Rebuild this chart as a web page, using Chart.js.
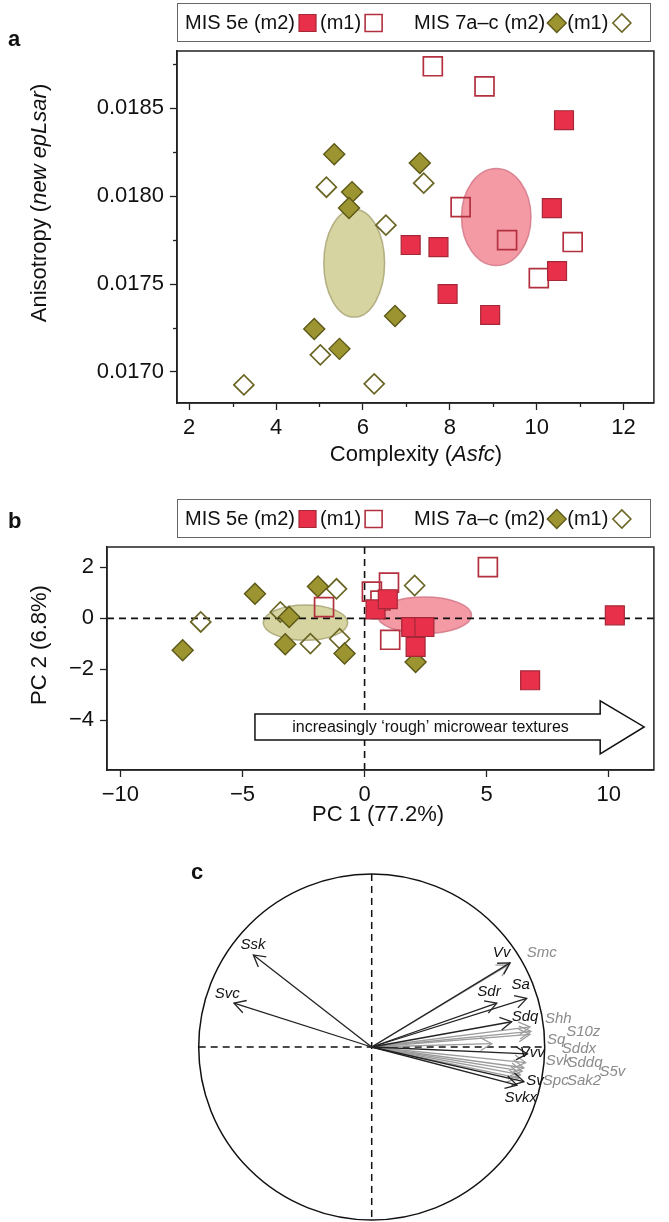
<!DOCTYPE html>
<html>
<head>
<meta charset="utf-8">
<script src="https://cdn.jsdelivr.net/npm/chart.js@4.4.1/dist/chart.umd.min.js"></script>
<style>
  html, body { margin: 0; padding: 0; background: #fff; }
  #wrap { position: relative; width: 669px; height: 1222px; overflow: hidden; }
  .pane { position: absolute; left: 0; width: 669px; }
</style>
</head>
<body>
<div id="wrap">
  <div class="pane" style="top:0;height:485px"><canvas id="chartA"></canvas></div>
  <div class="pane" style="top:485px;height:365px"><canvas id="chartB"></canvas></div>
  <div class="pane" style="top:850px;height:372px"><canvas id="chartC"></canvas></div>
</div>
<script>
// ---------- panel a : Complexity (Asfc) vs Anisotropy (new epLsar)
const aAsfc5eM2 = [10.63, 10.35, 7.10, 7.74, 10.47, 7.95, 8.93];
const aEpl5eM2  = [0.018432, 0.017932, 0.017722, 0.017710, 0.017574, 0.017443, 0.017324];
const aAsfc5eM1 = [7.61, 8.80, 8.25, 9.32, 10.83, 10.05];
const aEpl5eM1  = [0.018739, 0.018625, 0.017938, 0.017750, 0.017739, 0.017534];
const aAsfc7M2  = [5.34, 7.31, 5.75, 5.68, 4.88, 5.46, 6.74];
const aEpl7M2   = [0.018239, 0.018188, 0.018023, 0.017932, 0.017244, 0.017131, 0.017318];
const aAsfc7M1  = [5.16, 7.40, 6.53, 5.02, 3.26, 6.26];
const aEpl7M1   = [0.018051, 0.018074, 0.017835, 0.017097, 0.016926, 0.016932];
// group ellipses: centre x, centre y, radius x, radius y
const aEll5e = [9.07, 0.017881, 0.80, 0.000276];
const aEll7  = [5.80, 0.017619, 0.70, 0.000307];

// ---------- panel b : PCA scores
const bPc1_5eM2 = [10.25, 6.78, 2.09, 1.91, 2.45, 0.45, 0.95];
const bPc2_5eM2 = [0.12, -2.43, -1.12, -0.34, -0.34, 0.35, 0.75];
const bPc1_5eM1 = [5.05, 1.05, -1.66, 0.30, 1.00, 0.65];
const bPc2_5eM1 = [2.01, -0.84, 0.44, 1.05, 1.40, 0.70];
const bPc1_7M2  = [-4.49, -7.45, -1.91, -3.09, -3.25, -0.82, 2.09];
const bPc2_7M2  = [0.97, -1.25, 1.25, 0.05, -1.02, -1.38, -1.71];
const bPc1_7M1  = [-6.71, -1.15, -3.45, -2.22, -1.02, 2.05];
const bPc2_7M1  = [-0.14, 1.16, 0.25, -0.99, -0.80, 1.29];
const bEll5e = [2.45, 0.12, 1.93, 0.72];
const bEll7  = [-2.42, -0.17, 1.73, 0.69];
// block arrow: from x, head start x, tip x, centre y (PC units)
const bArrow = [-4.49, 9.65, 11.45, -4.26];

// ---------- panel c : loadings (correlation circle)
const cBlackNames = ['Ssk', 'Svc', 'Vv', 'Sa', 'Sdr', 'Sdq', 'Vvv', 'Sv', 'Svkx'];
const cBlackX = [-0.684, -0.796, 0.80, 0.896, 0.723, 0.809, 0.90, 0.88, 0.84];
const cBlackY = [0.532, 0.253, 0.486, 0.281, 0.253, 0.146, -0.04, -0.20, -0.22];
const cGrayNames = ['Smc', 'Shh', 'S10z', 'Sq', 'Sddx', 'Svk', 'Sddq', 'S5v', 'Sak2', 'Spc'];
const cGrayX = [0.79, 0.915, 0.92, 0.915, 0.694, 0.89, 0.88, 0.87, 0.86, 0.85];
const cGrayY = [0.475, 0.116, 0.09, 0.073, 0.019, -0.09, -0.12, -0.14, -0.16, -0.18];
// where each label sits (circle units)
const cBlackLabelAt = [[-0.686, 0.590], [-0.835, 0.306], [0.751, 0.542], [0.861, 0.358], [0.678, 0.320],
  [0.886, 0.172], [0.928, -0.031], [0.944, -0.195], [0.861, -0.291]];
const cGrayLabelAt = [[0.983, 0.542], [1.079, 0.162], [1.223, 0.085], [1.067, 0.040], [1.198, -0.008],
  [1.079, -0.079], [1.233, -0.089], [1.391, -0.143], [1.227, -0.195], [1.064, -0.195]];

const FONT = '"Liberation Sans", Arial, Helvetica, sans-serif';
const RED = '#e8304a', RED_EDGE = '#a52838', RED_OPEN = '#b3303f';
const OLIVE = '#9c9430', OLIVE_EDGE = '#5c5818', OLIVE_OPEN = '#6a6524';

const zip = (xs, ys) => xs.map((x, i) => ({ x: x, y: ys[i] }));

function markerSets(p) {
  return [
    { data: p[0], pointStyle: 'rect', pointRadius: 13.4, backgroundColor: RED, borderColor: RED_EDGE, borderWidth: 1.2 },
    { data: p[1], pointStyle: 'rect', pointRadius: 13.4, backgroundColor: 'rgba(255,255,255,0)', borderColor: RED_OPEN, borderWidth: 1.7 },
    { data: p[2], pointStyle: 'rectRot', pointRadius: 10.5, backgroundColor: OLIVE, borderColor: OLIVE_EDGE, borderWidth: 1.4 },
    { data: p[3], pointStyle: 'rectRot', pointRadius: 10, backgroundColor: 'rgba(255,255,255,0)', borderColor: OLIVE_OPEN, borderWidth: 1.7 }
  ].map(d => Object.assign(d, { showLine: false, pointHoverRadius: d.pointRadius }));
}

function drawRich(ctx, parts, x, y, size) {
  let total = 0;
  parts.forEach(p => { ctx.font = (p[1] ? 'italic ' : '') + size + 'px ' + FONT; total += ctx.measureText(p[0]).width; });
  let cx = x - total / 2;
  ctx.textAlign = 'left';
  ctx.textBaseline = 'middle';
  parts.forEach(p => {
    ctx.font = (p[1] ? 'italic ' : '') + size + 'px ' + FONT;
    ctx.fillText(p[0], cx, y);
    cx += ctx.measureText(p[0]).width;
  });
}

function square(ctx, cx, cy, s, fill, edge, lw) {
  ctx.beginPath();
  ctx.rect(cx - s / 2, cy - s / 2, s, s);
  if (fill) { ctx.fillStyle = fill; ctx.fill(); }
  ctx.lineWidth = lw; ctx.strokeStyle = edge; ctx.stroke();
}
function diamond(ctx, cx, cy, r, fill, edge, lw) {
  ctx.beginPath();
  ctx.moveTo(cx - r, cy); ctx.lineTo(cx, cy - r); ctx.lineTo(cx + r, cy); ctx.lineTo(cx, cy + r);
  ctx.closePath();
  if (fill) { ctx.fillStyle = fill; ctx.fill(); }
  ctx.lineWidth = lw; ctx.strokeStyle = edge; ctx.stroke();
}

function drawLegend(ctx, top) {
  const left = 177, right = 650, h = 38, cy = top + h / 2 + 1;
  ctx.save();
  ctx.strokeStyle = '#666'; ctx.lineWidth = 1;
  ctx.strokeRect(left + 0.5, top + 0.5, right - left, h);
  ctx.font = '20px ' + FONT; ctx.fillStyle = '#111';
  ctx.textAlign = 'left'; ctx.textBaseline = 'middle';
  let x = 185;
  const text = t => { ctx.fillStyle = '#111'; ctx.fillText(t, x, cy); x += ctx.measureText(t).width; };
  text('MIS 5e (m2)'); x += 4;
  square(ctx, x + 8.5, cy, 17, RED, RED_EDGE, 1.2); x += 21;
  text('(m1)'); x += 4;
  square(ctx, x + 8.5, cy, 17, null, RED_OPEN, 1.6); x += 49;
  text('MIS 7a\u2013c (m2)'); x += 2;
  diamond(ctx, x + 9.5, cy, 9.5, OLIVE, OLIVE_EDGE, 1.3); x += 20;
  text('(m1)'); x += 4;
  diamond(ctx, x + 9.5, cy, 9, null, OLIVE_OPEN, 1.6);
  ctx.restore();
}

function drawEllipse(ctx, xs, ys, e, fill, edge) {
  const cx = xs.getPixelForValue(e[0]), cy = ys.getPixelForValue(e[1]);
  const rx = Math.abs(xs.getPixelForValue(e[0] + e[2]) - cx);
  const ry = Math.abs(ys.getPixelForValue(e[1] + e[3]) - cy);
  ctx.beginPath();
  ctx.ellipse(cx, cy, rx, ry, 0, 0, Math.PI * 2);
  ctx.fillStyle = fill; ctx.fill();
  ctx.lineWidth = 1.5; ctx.strokeStyle = edge; ctx.stroke();
}

function frame(ctx, area) {
  ctx.save();
  ctx.strokeStyle = '#222'; ctx.lineWidth = 1.5;
  ctx.strokeRect(area.left, area.top, area.right - area.left, area.bottom - area.top);
  ctx.restore();
}

const minus = v => String(v).replace('-', '\u2212');
const isHalfStep = v => Math.round(v / 0.00025) % 2 === 0;

// ---------- chart a
const panelA = {
  id: 'panelA',
  beforeDatasetsDraw(chart) {
    const ctx = chart.ctx, xs = chart.scales.x, ys = chart.scales.y;
    ctx.save();
    drawEllipse(ctx, xs, ys, aEll5e, 'rgba(237,86,105,0.6)', 'rgba(205,110,125,0.75)');
    drawEllipse(ctx, xs, ys, aEll7, 'rgba(187,183,97,0.6)', 'rgba(160,155,105,0.75)');
    ctx.restore();
  },
  afterDraw(chart) {
    const ctx = chart.ctx, xs = chart.scales.x, ys = chart.scales.y, a = chart.chartArea;
    frame(ctx, a);
    ctx.save();
    ctx.strokeStyle = '#222'; ctx.lineWidth = 1.3;
    xs.ticks.forEach(t => {
      if (t.value % 2 !== 0) {
        const px = Math.round(xs.getPixelForValue(t.value)) + 0.5;
        ctx.beginPath(); ctx.moveTo(px, a.bottom); ctx.lineTo(px, a.bottom + 4); ctx.stroke();
      }
    });
    ys.ticks.forEach(t => {
      if (!isHalfStep(t.value)) {
        const py = Math.round(ys.getPixelForValue(t.value)) + 0.5;
        ctx.beginPath(); ctx.moveTo(a.left, py); ctx.lineTo(a.left - 4, py); ctx.stroke();
      }
    });
    ctx.fillStyle = '#111';
    drawRich(ctx, [['Complexity (', false], ['Asfc', true], [')', false]], 416, 455, 22);
    ctx.translate(40, 203); ctx.rotate(-Math.PI / 2);
    drawRich(ctx, [['Anisotropy (', false], ['new epLsar', true], [')', false]], 0, 0, 22);
    ctx.restore();
    ctx.save();
    ctx.font = 'bold 22px ' + FONT; ctx.fillStyle = '#111'; ctx.textBaseline = 'middle';
    ctx.fillText('a', 8, 40);
    ctx.restore();
    drawLegend(ctx, 3);
  }
};

new Chart(document.getElementById('chartA'), {
  type: 'scatter',
  data: { datasets: markerSets([zip(aAsfc5eM2, aEpl5eM2), zip(aAsfc5eM1, aEpl5eM1), zip(aAsfc7M2, aEpl7M2), zip(aAsfc7M1, aEpl7M1)]) },
  options: {
    responsive: true, maintainAspectRatio: false, animation: false,
    layout: { padding: { left: 0, top: 51, right: 14, bottom: 0 } },
    plugins: { legend: { display: false }, tooltip: { enabled: false } },
    scales: {
      x: {
        type: 'linear', min: 1.72, max: 12.7,
        afterFit: s => { s.height = 82; },
        ticks: { stepSize: 1, includeBounds: false, autoSkip: false, maxRotation: 0, padding: 5, color: '#111',
          font: { family: FONT, size: 22 }, callback: v => (v % 2 === 0 ? String(v) : '') },
        grid: { drawOnChartArea: false, tickLength: 7, tickWidth: 1.3,
          tickColor: c => (c.tick && c.tick.value % 2 === 0 ? '#222' : 'rgba(0,0,0,0)') },
        border: { color: '#222', width: 1.5 }
      },
      y: {
        type: 'linear', min: 0.016823, max: 0.018826,
        afterFit: s => { s.width = 177; },
        ticks: { stepSize: 0.00025, includeBounds: false, autoSkip: false, padding: 6, color: '#111',
          font: { family: FONT, size: 22 },
          callback: v => (isHalfStep(v) ? v.toFixed(4) : '') },
        grid: { drawOnChartArea: false, tickLength: 7, tickWidth: 1.3,
          tickColor: c => (c.tick && isHalfStep(c.tick.value) ? '#222' : 'rgba(0,0,0,0)') },
        border: { color: '#222', width: 1.5 }
      }
    }
  },
  plugins: [panelA]
});

// ---------- chart b
const panelB = {
  id: 'panelB',
  beforeDatasetsDraw(chart) {
    const ctx = chart.ctx, xs = chart.scales.x, ys = chart.scales.y, a = chart.chartArea;
    ctx.save();
    drawEllipse(ctx, xs, ys, bEll5e, 'rgba(237,86,105,0.6)', 'rgba(205,110,125,0.75)');
    drawEllipse(ctx, xs, ys, bEll7, 'rgba(187,183,97,0.6)', 'rgba(160,155,105,0.75)');
    ctx.strokeStyle = '#111'; ctx.lineWidth = 1.6; ctx.setLineDash([7, 5]);
    const x0 = xs.getPixelForValue(0), y0 = ys.getPixelForValue(0);
    ctx.beginPath(); ctx.moveTo(a.left, y0); ctx.lineTo(a.right, y0); ctx.stroke();
    ctx.beginPath(); ctx.moveTo(x0, a.top); ctx.lineTo(x0, a.bottom); ctx.stroke();
    ctx.setLineDash([]);
    // block arrow
    const xa = xs.getPixelForValue(bArrow[0]), xh = xs.getPixelForValue(bArrow[1]);
    const xt = xs.getPixelForValue(bArrow[2]), yc = ys.getPixelForValue(bArrow[3]);
    ctx.beginPath();
    ctx.moveTo(xa, yc - 13); ctx.lineTo(xh, yc - 13); ctx.lineTo(xh, yc - 26); ctx.lineTo(xt, yc);
    ctx.lineTo(xh, yc + 27); ctx.lineTo(xh, yc + 13); ctx.lineTo(xa, yc + 13); ctx.closePath();
    ctx.fillStyle = '#fff'; ctx.fill();
    ctx.strokeStyle = '#111'; ctx.lineWidth = 1.5; ctx.stroke();
    ctx.font = '16px ' + FONT; ctx.fillStyle = '#111'; ctx.textAlign = 'center'; ctx.textBaseline = 'middle';
    ctx.fillText('increasingly \u2018rough\u2019 microwear textures', (xa + xh) / 2 + 3, yc + 1);
    ctx.restore();
  },
  afterDraw(chart) {
    const ctx = chart.ctx;
    frame(ctx, chart.chartArea);
    ctx.save();
    ctx.fillStyle = '#111';
    drawRich(ctx, [['PC 1 (77.2%)', false]], 378, 330, 22);
    ctx.translate(40, 160); ctx.rotate(-Math.PI / 2);
    drawRich(ctx, [['PC 2 (6.8%)', false]], 0, 0, 22);
    ctx.restore();
    ctx.save();
    ctx.font = 'bold 22px ' + FONT; ctx.fillStyle = '#111'; ctx.textBaseline = 'middle';
    ctx.fillText('b', 8, 37);
    ctx.restore();
    drawLegend(ctx, 14);
  }
};

new Chart(document.getElementById('chartB'), {
  type: 'scatter',
  data: { datasets: markerSets([zip(bPc1_5eM2, bPc2_5eM2), zip(bPc1_5eM1, bPc2_5eM1), zip(bPc1_7M2, bPc2_7M2), zip(bPc1_7M1, bPc2_7M1)]) },
  options: {
    responsive: true, maintainAspectRatio: false, animation: false,
    layout: { padding: { left: 0, top: 62, right: 2, bottom: 0 } },
    plugins: { legend: { display: false }, tooltip: { enabled: false } },
    scales: {
      x: {
        type: 'linear', min: -10.55, max: 11.85,
        afterFit: s => { s.height = 80; },
        ticks: { stepSize: 5, includeBounds: false, autoSkip: false, maxRotation: 0, padding: 5, color: '#111',
          font: { family: FONT, size: 22 }, callback: v => minus(v) },
        grid: { drawOnChartArea: false, tickLength: 7, tickWidth: 1.3, tickColor: '#222' },
        border: { color: '#222', width: 1.5 }
      },
      y: {
        type: 'linear', min: -5.95, max: 2.8,
        afterFit: s => { s.width = 107; },
        ticks: { stepSize: 2, includeBounds: false, autoSkip: false, padding: 6, color: '#111',
          font: { family: FONT, size: 22 }, callback: v => minus(v) },
        grid: { drawOnChartArea: false, tickLength: 7, tickWidth: 1.3, tickColor: '#222' },
        border: { color: '#222', width: 1.5 }
      }
    }
  },
  plugins: [panelB]
});

// ---------- chart c
function arrow(ctx, x0, y0, x1, y1) {
  ctx.beginPath(); ctx.moveTo(x0, y0); ctx.lineTo(x1, y1); ctx.stroke();
  const ang = Math.atan2(y1 - y0, x1 - x0), L = 13, s = 0.52;
  ctx.beginPath();
  ctx.moveTo(x1 - L * Math.cos(ang - s), y1 - L * Math.sin(ang - s));
  ctx.lineTo(x1, y1);
  ctx.lineTo(x1 - L * Math.cos(ang + s), y1 - L * Math.sin(ang + s));
  ctx.stroke();
}

const panelC = {
  id: 'panelC',
  afterDatasetsDraw(chart) {
    const ctx = chart.ctx, xs = chart.scales.x, ys = chart.scales.y;
    const cx = xs.getPixelForValue(0), cy = ys.getPixelForValue(0);
    const r = xs.getPixelForValue(1) - cx;
    ctx.save();
    ctx.strokeStyle = '#111'; ctx.lineWidth = 1.5;
    ctx.beginPath(); ctx.arc(cx, cy, r, 0, Math.PI * 2); ctx.stroke();
    ctx.setLineDash([7, 5]); ctx.lineWidth = 1.5;
    ctx.beginPath(); ctx.moveTo(cx - r, cy); ctx.lineTo(cx + r, cy); ctx.stroke();
    ctx.beginPath(); ctx.moveTo(cx, cy - r); ctx.lineTo(cx, chart.height); ctx.stroke();
    ctx.setLineDash([]);
    const groups = [
      { meta: chart.getDatasetMeta(1), names: cGrayNames, at: cGrayLabelAt, line: '#9d9d9d', text: '#8a8a8a' },
      { meta: chart.getDatasetMeta(0), names: cBlackNames, at: cBlackLabelAt, line: '#222', text: '#111' }
    ];
    groups.forEach(g => {
      ctx.strokeStyle = g.line; ctx.lineWidth = 1.3;
      g.meta.data.forEach(pt => arrow(ctx, cx, cy, pt.x, pt.y));
    });
    ctx.font = 'italic 15px ' + FONT; ctx.textAlign = 'center'; ctx.textBaseline = 'middle';
    groups.forEach(g => {
      ctx.fillStyle = g.text;
      g.names.forEach((n, i) => ctx.fillText(n, xs.getPixelForValue(g.at[i][0]), ys.getPixelForValue(g.at[i][1])));
    });
    ctx.font = 'bold 22px ' + FONT; ctx.fillStyle = '#111'; ctx.textAlign = 'left';
    ctx.fillText('c', 191, 23);
    ctx.restore();
  }
};

new Chart(document.getElementById('chartC'), {
  type: 'scatter',
  data: { datasets: [
    { data: zip(cBlackX, cBlackY), pointRadius: 0, pointHoverRadius: 0 },
    { data: zip(cGrayX, cGrayY), pointRadius: 0, pointHoverRadius: 0 }
  ] },
  options: {
    responsive: true, maintainAspectRatio: false, animation: false,
    layout: { padding: { left: 198.7, top: 24, right: 124.3, bottom: 2 } },
    plugins: { legend: { display: false }, tooltip: { enabled: false } },
    scales: {
      x: { type: 'linear', min: -1, max: 1, display: false },
      y: { type: 'linear', min: -1, max: 1, display: false }
    }
  },
  plugins: [panelC]
});
</script>
</body>
</html>
